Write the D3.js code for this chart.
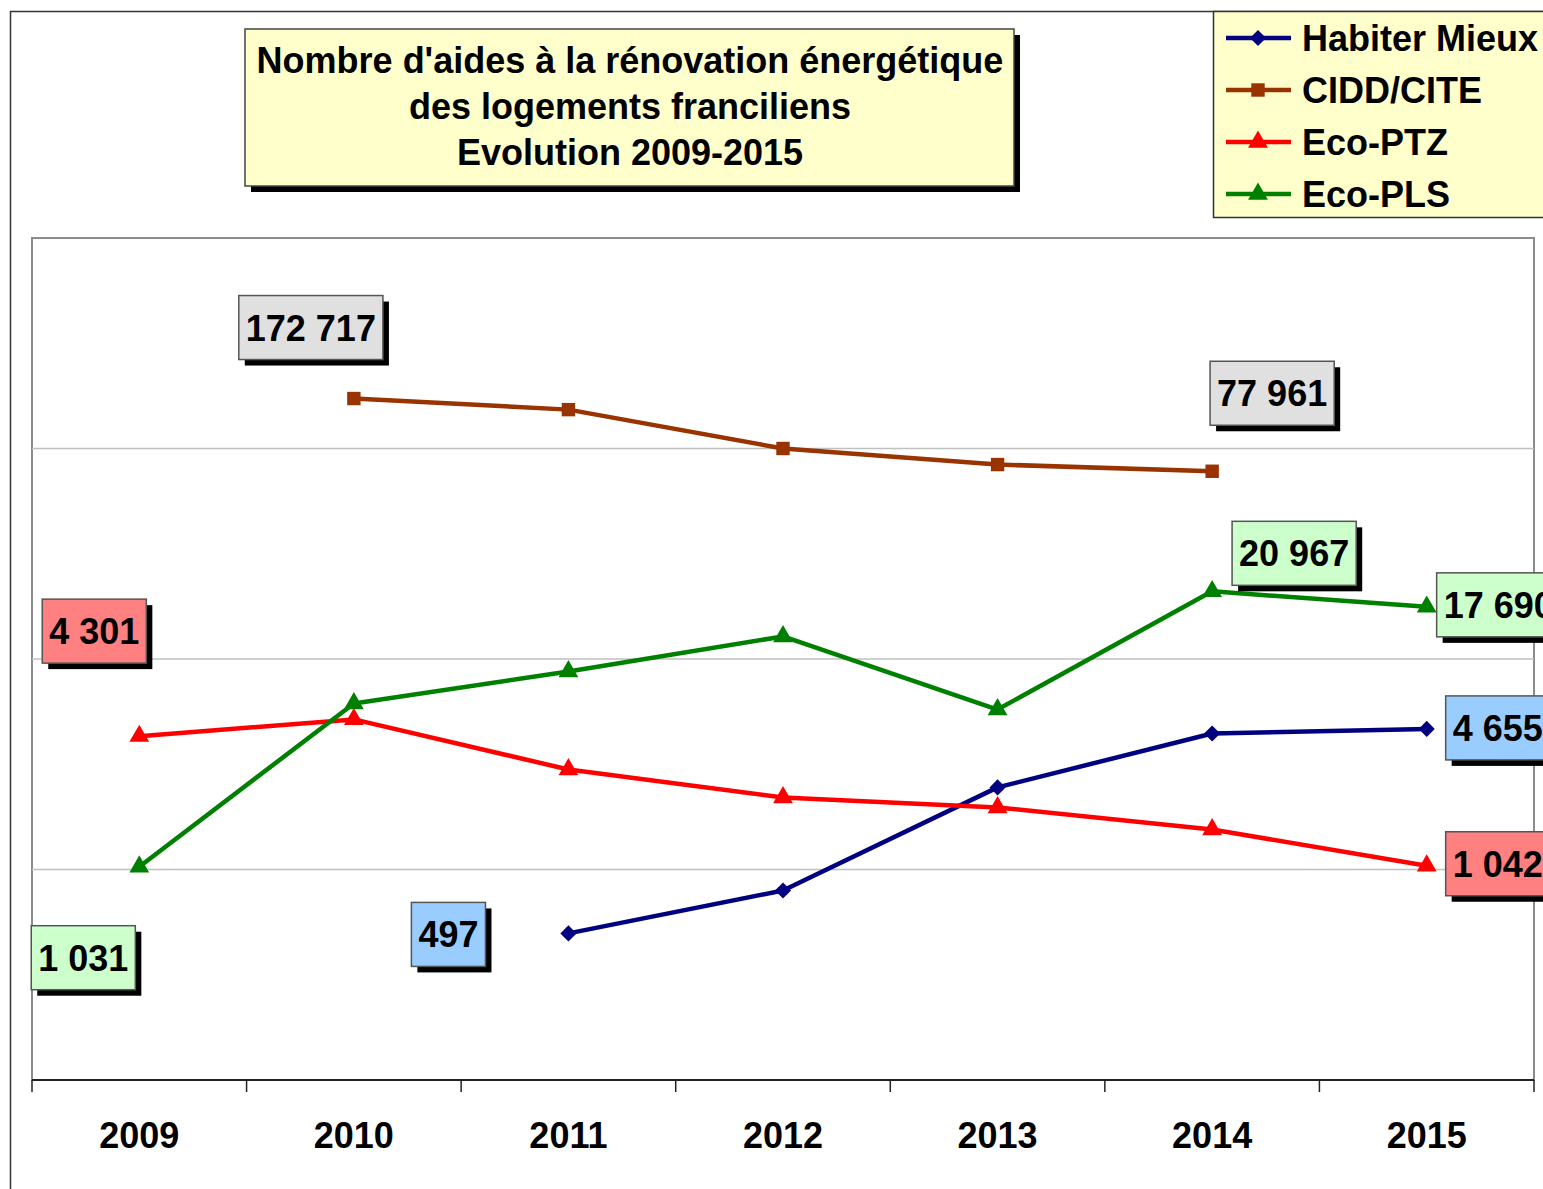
<!DOCTYPE html>
<html>
<head>
<meta charset="utf-8">
<script src="https://cdn.jsdelivr.net/npm/d3@7"></script>
<style>
    body { margin: 0; background: #fff; }
    svg { display: block; }
    text { font-family: "Liberation Sans", Arial, sans-serif; font-weight: bold; fill: #000; }
</style>
</head>
<body>
<div id="chart"></div>
<script>
const years = ["2009", "2010", "2011", "2012", "2013", "2014", "2015"];
const habiterMieux = [null, null, 497, 795, 2455, 4427, 4655];
const ciddCite = [null, 172717, 153000, 100000, 83900, 77961, null];
const ecoPtz = [4301, 5165, 2986, 2199, 1972, 1549, 1042];
const ecoPls = [1031, 6150, 8717, 12800, 5755, 20967, 17690];
const gridValues = [1000, 10000, 100000];

const titleLines = ["Nombre d'aides à la rénovation énergétique", "des logements franciliens", "Evolution 2009-2015"];

// rhombus marker, a bit wider than d3's diamond
const rhombus = {
    draw(ctx, size) {
        const r = Math.sqrt(size / 2);
        ctx.moveTo(0, -r);
        ctx.lineTo(r, 0);
        ctx.lineTo(0, r);
        ctx.lineTo(-r, 0);
        ctx.closePath();
    }
};

const series = [
    {name: "Habiter Mieux", values: habiterMieux, color: "#000080", symbol: rhombus, size: 130},
    {name: "CIDD/CITE", values: ciddCite, color: "#993300", symbol: d3.symbolSquare, size: 180},
    {name: "Eco-PTZ", values: ecoPtz, color: "#ff0000", symbol: d3.symbolTriangle, size: 170},
    {name: "Eco-PLS", values: ecoPls, color: "#008000", symbol: d3.symbolTriangle, size: 170},
];

// which points carry a value box, and where the box sits (offset of its centre from the point)
const valueLabels = [
    {s: 1, i: 1, dx: -43, dy: -71, fill: "#e0e0e0"},
    {s: 1, i: 5, dx: 60, dy: -78, fill: "#e0e0e0"},
    {s: 3, i: 5, dx: 82, dy: -38, fill: "#ccffcc"},
    {s: 3, i: 6, dx: 72, dy: -2, fill: "#ccffcc"},
    {s: 0, i: 6, dx: 71, dy: -1, fill: "#99ccff"},
    {s: 2, i: 6, dx: 71, dy: -2, fill: "#ff8080"},
    {s: 2, i: 0, dx: -45, dy: -105, fill: "#ff8080"},
    {s: 3, i: 0, dx: -56, dy: 91, fill: "#ccffcc"},
    {s: 0, i: 2, dx: -120, dy: 1, fill: "#99ccff"},
];

const W = 1543, H = 1189;
const plot = {left: 32, right: 1534, top: 238, bottom: 1080};
const fontSize = "36px";

const fmt = v => d3.format(",")(v).replace(/,/g, " ");

const svg = d3.select("#chart").append("svg")
    .attr("width", W)
    .attr("height", H);

// outer chart area
svg.append("rect")
    .attr("x", 10.5).attr("y", 11.5)
    .attr("width", W + 20).attr("height", H + 20)
    .attr("fill", "#fff")
    .attr("stroke", "#333")
    .attr("stroke-width", 1.5);

const x = d3.scaleBand().domain(years).range([plot.left, plot.right]);
const y = d3.scaleLog().domain([100, 1e6]).range([plot.bottom, plot.top]);

// plot area
svg.append("rect")
    .attr("x", plot.left).attr("y", plot.top)
    .attr("width", plot.right - plot.left).attr("height", plot.bottom - plot.top)
    .attr("fill", "#fff")
    .attr("stroke", "#8c8c8c")
    .attr("stroke-width", 2);

svg.append("g")
    .selectAll("line")
    .data(gridValues)
    .join("line")
    .attr("x1", plot.left).attr("x2", plot.right)
    .attr("y1", d => y(d)).attr("y2", d => y(d))
    .attr("stroke", "#c0c0c0")
    .attr("stroke-width", 1.5);

// x axis
const xAxis = svg.append("g")
    .attr("transform", `translate(0,${plot.bottom})`);
xAxis.append("line")
    .attr("x1", plot.left).attr("x2", plot.right)
    .attr("stroke", "#222").attr("stroke-width", 2);
const bounds = years.map(yr => x(yr)).concat([plot.right]);
xAxis.selectAll("line.tick")
    .data(bounds)
    .join("line")
    .attr("class", "tick")
    .attr("x1", d => d).attr("x2", d => d)
    .attr("y1", 0).attr("y2", 12)
    .attr("stroke", "#222").attr("stroke-width", 1.5);
xAxis.selectAll("text")
    .data(years)
    .join("text")
    .attr("x", d => x(d) + x.bandwidth() / 2)
    .attr("y", 68)
    .attr("text-anchor", "middle")
    .style("font-size", fontSize)
    .text(d => d);

// lines and markers
const cx = i => x(years[i]) + x.bandwidth() / 2;
const line = d3.line()
    .defined(d => d != null)
    .x((d, i) => cx(i))
    .y(d => y(d));

series.forEach(s => {
    const g = svg.append("g");
    g.append("path")
        .datum(s.values)
        .attr("d", line)
        .attr("fill", "none")
        .attr("stroke", s.color)
        .attr("stroke-width", 4.5)
        .attr("stroke-linejoin", "round");
    g.selectAll("path.marker")
        .data(s.values.map((v, i) => ({v, i})).filter(d => d.v != null))
        .join("path")
        .attr("class", "marker")
        .attr("transform", d => `translate(${cx(d.i)},${y(d.v)})`)
        .attr("d", d3.symbol().type(s.symbol).size(s.size))
        .attr("fill", s.color);
});

// boxed text with a drop shadow
function shadowBox(parent, bx, by, bw, bh, fill, stroke) {
    parent.append("rect")
        .attr("x", bx + 6).attr("y", by + 6)
        .attr("width", bw).attr("height", bh)
        .attr("fill", "#000");
    parent.append("rect")
        .attr("x", bx).attr("y", by)
        .attr("width", bw).attr("height", bh)
        .attr("fill", fill)
        .attr("stroke", stroke)
        .attr("stroke-width", 1.5);
}

// value labels
const labelLayer = svg.append("g");
valueLabels.forEach(l => {
    const v = series[l.s].values[l.i];
    const px = cx(l.i) + l.dx, py = y(v) + l.dy;
    const g = labelLayer.append("g");
    const t = g.append("text")
        .attr("x", px).attr("y", py + 13)
        .attr("text-anchor", "middle")
        .style("font-size", fontSize)
        .text(fmt(v));
    const tw = t.node().getComputedTextLength();
    const bw = tw + 14, bh = 64;
    g.insert("g", "text").call(p => shadowBox(p, px - bw / 2, py - bh / 2, bw, bh, l.fill, "#555"));
});

// title box
const title = svg.append("g");
shadowBox(title, 245, 29, 769, 157, "#ffffcc", "#444");
title.selectAll("text")
    .data(titleLines)
    .join("text")
    .attr("x", 630)
    .attr("y", (d, i) => 73 + i * 46)
    .attr("text-anchor", "middle")
    .style("font-size", fontSize)
    .text(d => d);

// legend
const legend = svg.append("g");
legend.append("rect")
    .attr("x", 1213.5).attr("y", 11.5)
    .attr("width", 360).attr("height", 206)
    .attr("fill", "#ffffcc")
    .attr("stroke", "#333")
    .attr("stroke-width", 1.5);
series.forEach((s, i) => {
    const ly = 38 + i * 52;
    legend.append("line")
        .attr("x1", 1226).attr("x2", 1291)
        .attr("y1", ly).attr("y2", ly)
        .attr("stroke", s.color).attr("stroke-width", 4.5);
    legend.append("path")
        .attr("transform", `translate(1258,${ly})`)
        .attr("d", d3.symbol().type(s.symbol).size(s.size))
        .attr("fill", s.color);
    legend.append("text")
        .attr("x", 1302).attr("y", ly + 13)
        .style("font-size", fontSize)
        .text(s.name);
});
</script>
</body>
</html>
